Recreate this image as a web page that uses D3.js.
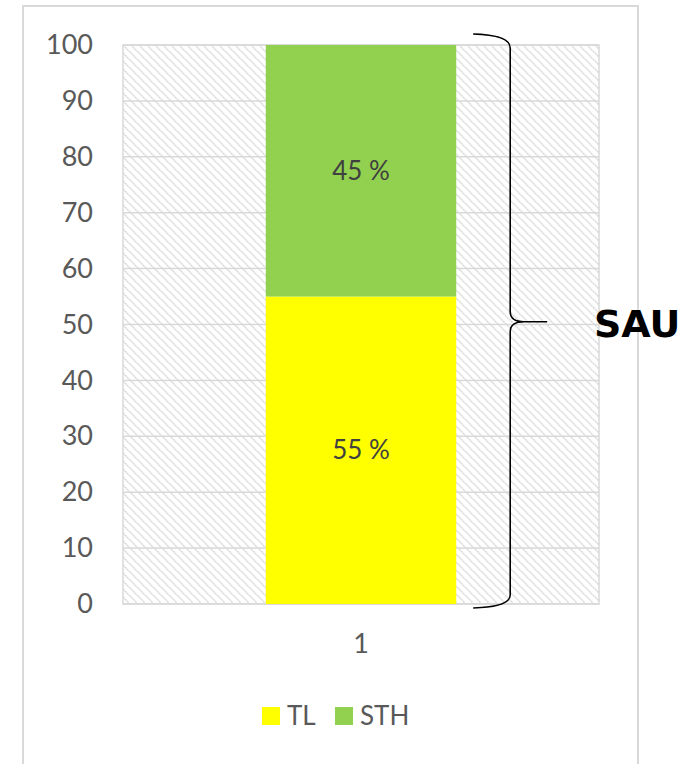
<!DOCTYPE html>
<html>
<head>
<meta charset="utf-8">
<script src="https://cdn.jsdelivr.net/npm/d3@7"></script>
<style>
  body { margin: 0; background: #fff; }
  svg text { font-family: Lato, "Open Sans", sans-serif; }
</style>
</head>
<body>
<svg id="chart"></svg>
<script>
// data
var categories = ["1"];
var seriesNames = ["TL", "STH"];
var tlValues = [55];
var sthValues = [45];
var yTicks = [0, 10, 20, 30, 40, 50, 60, 70, 80, 90, 100];
var braceLabel = "SAU";

var colors = { TL: "#ffff00", STH: "#92d050" };

var svgWidth = 692, svgHeight = 764;
var margin = { top: 45, left: 123, right: 93, bottom: 160 };
var width = svgWidth - margin.left - margin.right;   // 476
var height = svgHeight - margin.top - margin.bottom; // 559

var svg = d3.select("#chart")
    .attr("width", svgWidth)
    .attr("height", svgHeight);

// hatch pattern for plot background
var defs = svg.append("defs");
var pat = defs.append("pattern")
    .attr("id", "hatch")
    .attr("patternUnits", "userSpaceOnUse")
    .attr("width", 8).attr("height", 8);
pat.append("rect").attr("width", 8).attr("height", 8).attr("fill", "#fff");
pat.append("path")
    .attr("d", "M-2,-2 L10,10 M-2,6 L2,10 M6,-2 L10,2")
    .attr("stroke", "#d8d8d8")
    .attr("stroke-width", 1.5)
    .attr("stroke-dasharray", "2.2,0.6");

// outer chart frame
svg.append("rect")
    .attr("x", 23).attr("y", 6)
    .attr("width", 615).attr("height", 800)
    .attr("fill", "none")
    .attr("stroke", "#d9d9d9")
    .attr("stroke-width", 2);

var x = d3.scaleBand()
    .domain(categories)
    .range([0, width])
    .paddingInner(0.6)
    .paddingOuter(0.3);

var y = d3.scaleLinear()
    .domain([0, 100])
    .range([height, 0]);

var g = svg.append("g")
    .attr("transform", "translate(" + margin.left + "," + margin.top + ")");

g.append("rect")
    .attr("width", width).attr("height", height)
    .attr("fill", "url(#hatch)");

// gridlines
g.selectAll(".grid")
    .data(yTicks)
    .enter().append("line")
    .attr("x1", 0).attr("x2", width)
    .attr("y1", function(d) { return y(d); })
    .attr("y2", function(d) { return y(d); })
    .attr("stroke", "#d9d9d9")
    .attr("stroke-width", 1.5);

g.append("rect")
    .attr("width", width).attr("height", height)
    .attr("fill", "none")
    .attr("stroke", "#d9d9d9")
    .attr("stroke-width", 1.5);

// stacked bars
var rows = categories.map(function(c, i) {
    return { cat: c, TL: tlValues[i], STH: sthValues[i] };
});
var stack = d3.stack().keys(seriesNames)(rows);

var layers = g.selectAll(".layer")
    .data(stack)
    .enter().append("g")
    .attr("fill", function(d) { return colors[d.key]; });

layers.selectAll("rect")
    .data(function(d) { return d; })
    .enter().append("rect")
    .attr("x", function(d) { return x(d.data.cat); })
    .attr("width", x.bandwidth())
    .attr("y", function(d) { return y(d[1]); })
    .attr("height", function(d) { return y(d[0]) - y(d[1]); });

layers.selectAll("text")
    .data(function(d) { return d; })
    .enter().append("text")
    .attr("x", function(d) { return x(d.data.cat) + x.bandwidth() / 2; })
    .attr("y", function(d) { return y((d[0] + d[1]) / 2); })
    .attr("dy", "0.35em")
    .attr("text-anchor", "middle")
    .attr("fill", "#404040")
    .style("font-size", "26px")
    .text(function(d) { return (d[1] - d[0]) + " %"; });

// axes
var yAxis = g.append("g")
    .call(d3.axisLeft(y).tickValues(yTicks).tickSize(0).tickPadding(30));
yAxis.select(".domain").remove();
yAxis.selectAll("text")
    .attr("fill", "#595959")
    .style("font-size", "27px");

var xAxis = g.append("g")
    .attr("transform", "translate(0," + height + ")")
    .call(d3.axisBottom(x).tickSize(0).tickPadding(30));
xAxis.select(".domain").remove();
xAxis.selectAll("text")
    .attr("fill", "#595959")
    .style("font-size", "27px");

// legend
var legend = svg.append("g")
    .attr("transform", "translate(262,716)");
var legendX = [0, 73];
seriesNames.forEach(function(name, i) {
    var item = legend.append("g").attr("transform", "translate(" + legendX[i] + ",0)");
    item.append("rect")
        .attr("x", 0).attr("y", -9)
        .attr("width", 18).attr("height", 18)
        .attr("fill", colors[name]);
    item.append("text")
        .attr("x", 25).attr("y", 0)
        .attr("dy", "0.36em")
        .attr("fill", "#595959")
        .style("font-size", "26px")
        .text(name);
});

// curly brace annotation spanning the whole bar
// (careful: "top" is a reserved window property, so use braceTop)
var bx = margin.left + x(categories[0]) + x.bandwidth() + 54;   // vertical stroke
var braceTop = margin.top + y(100) - 11;
var braceBot = margin.top + y(0) + 4;
var braceMid = margin.top + y(50.5);
var braceD = "M" + (bx - 37) + "," + braceTop +
    " Q" + bx + "," + (braceTop + 1) + " " + bx + "," + (braceTop + 14) +
    " L" + bx + "," + (braceMid - 10) +
    " Q" + bx + "," + braceMid + " " + (bx + 14) + "," + braceMid +
    " L" + (bx + 37) + "," + braceMid +
    " M" + (bx + 14) + "," + braceMid +
    " Q" + bx + "," + braceMid + " " + bx + "," + (braceMid + 10) +
    " L" + bx + "," + (braceBot - 13) +
    " Q" + bx + "," + (braceBot - 1) + " " + (bx - 37) + "," + braceBot;
svg.append("path")
    .attr("d", braceD)
    .attr("fill", "none")
    .attr("stroke", "#000")
    .attr("stroke-width", 1.6);

svg.append("text")
    .attr("x", 594)
    .attr("y", braceMid + 15)
    .style("font-family", "'DejaVu Sans', Verdana, sans-serif")
    .style("font-weight", "bold")
    .style("font-size", "38px")
    .attr("fill", "#000")
    .text(braceLabel);
</script>
</body>
</html>
